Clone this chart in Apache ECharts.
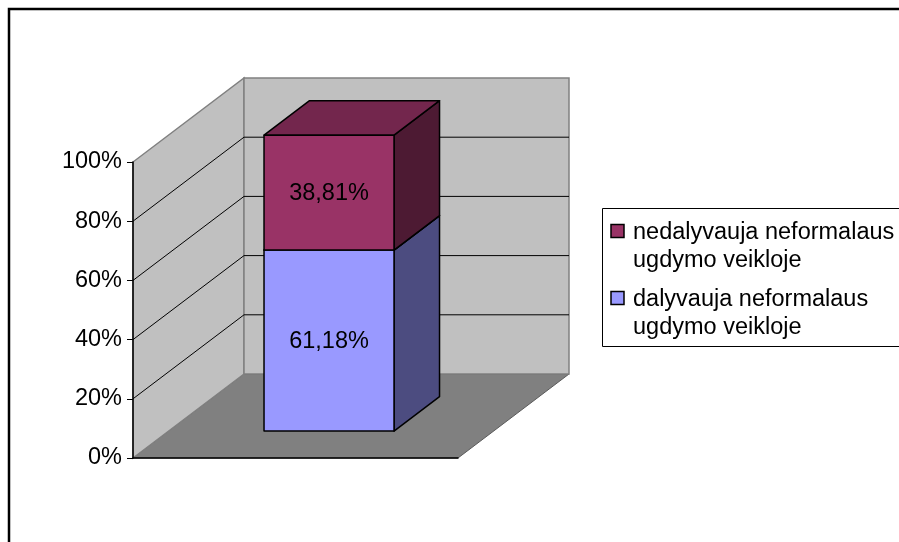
<!DOCTYPE html>
<html>
<head>
<meta charset="utf-8">
<script src="https://cdn.jsdelivr.net/npm/echarts@6/dist/echarts.min.js"></script>
<style>
  html, body { margin: 0; padding: 0; background: #fff; }
  #chart { width: 899px; height: 542px; }
</style>
</head>
<body>
<div id="chart"></div>
<script>
;(function() {
  'use strict'

  //------------------- Data -------------------//
  var categories = ['']
  var seriesNames = ['dalyvauja neformalaus ugdymo veikloje', 'nedalyvauja neformalaus ugdymo veikloje']
  var dalyvauja = [61.18]
  var nedalyvauja = [38.81]
  var yTicks = [0, 20, 40, 60, 80, 100]

  //------------------- Style -------------------//
  var FONT = "'Liberation Sans', Arial, sans-serif"
  var frontColors = ['#9999FF', '#993366']
  var sideColors = ['#4C4C80', '#4D1A33']
  var topColors = ['#7070C0', '#73264D']
  var DX = 111 // depth offset of the 3d box, px
  var DY = -84
  var BAR_FRONT = 0.32 // bar depth range as fraction of box depth
  var BAR_BACK = 0.73
  var GAP_WIDTH = 1.5

  function fmtPct(v) {
    return v.toFixed(2).replace('.', ',') + '%'
  }

  // legend label: first two words, then the rest on a second line
  function wrapName(name) {
    var words = name.split(' ')
    return words.slice(0, 2).join(' ') + '\n' + words.slice(2).join(' ')
  }

  // stacked table built from the arrays
  var valueSets = [dalyvauja, nedalyvauja]
  var stacked = []
  var base = categories.map(() => 0)
  valueSets.forEach((vals, s) => {
    stacked.push(vals.map((v, i) => {
      var row = [i, base[i], base[i] + v, v]
      base[i] += v
      return row
    }))
  })

  function renderWalls(params, api) {
    var cs = params.coordSys
    var L = cs.x
    var R = cs.x + cs.width
    var y0 = api.coord([0, yTicks[0]])[1]
    var yTop = api.coord([0, yTicks[yTicks.length - 1]])[1]
    var children = []

    children.push({
      type: 'polygon',
      shape: { points: [[L, y0], [R, y0], [R + DX, y0 + DY], [L + DX, y0 + DY]] },
      style: { fill: '#808080', stroke: '#5a5a5a', lineWidth: 1 },
    })
    children.push({
      type: 'polygon',
      shape: { points: [[L, y0], [L, yTop], [L + DX, yTop + DY], [L + DX, y0 + DY]] },
      style: { fill: '#C0C0C0', stroke: '#808080', lineWidth: 1.5 },
    })
    children.push({
      type: 'polygon',
      shape: { points: [[L + DX, yTop + DY], [R + DX, yTop + DY], [R + DX, y0 + DY], [L + DX, y0 + DY]] },
      style: { fill: '#C0C0C0', stroke: '#808080', lineWidth: 1.5 },
    })

    yTicks.slice(1, -1).forEach(t => {
      var y = api.coord([0, t])[1]
      children.push({
        type: 'polyline',
        shape: { points: [[L, y], [L + DX, y + DY], [R + DX, y + DY]] },
        style: { stroke: '#000', lineWidth: 1, fill: null },
      })
    })

    return { type: 'group', children }
  }

  function makeBarRenderer(s) {
    return function(params, api) {
      var idx = api.value(0)
      var lo = api.coord([idx, api.value(1)])
      var hi = api.coord([idx, api.value(2)])
      var band = api.size([1, 0])[0]
      var bw = band / (1 + GAP_WIDTH)
      var x0 = lo[0] - bw / 2 + BAR_FRONT * DX - 2
      var x1 = x0 + bw
      var yb = lo[1] + BAR_FRONT * DY
      var yt = hi[1] + BAR_FRONT * DY
      var ddx = (BAR_BACK - BAR_FRONT) * DX
      var ddy = (BAR_BACK - BAR_FRONT) * DY
      var edge = { stroke: '#000', lineWidth: 1.5, lineJoin: 'round' }

      return {
        type: 'group',
        children: [
          {
            type: 'polygon',
            shape: { points: [[x1, yb], [x1, yt], [x1 + ddx, yt + ddy], [x1 + ddx, yb + ddy]] },
            style: Object.assign({ fill: sideColors[s] }, edge),
          },
          {
            type: 'polygon',
            shape: { points: [[x0, yt], [x1, yt], [x1 + ddx, yt + ddy], [x0 + ddx, yt + ddy]] },
            style: Object.assign({ fill: topColors[s] }, edge),
          },
          {
            type: 'rect',
            shape: { x: x0, y: yt, width: bw, height: yb - yt },
            style: Object.assign({ fill: frontColors[s] }, edge),
          },
          {
            type: 'text',
            x: (x0 + x1) / 2,
            y: (yb + yt) / 2 + 1,
            style: {
              text: fmtPct(api.value(3)),
              fill: '#000',
              font: '23.5px ' + FONT,
              align: 'center',
              verticalAlign: 'middle',
            },
          },
        ],
      }
    }
  }

  // legend drawn in reverse order like the original
  var legendItems = seriesNames.map((name, s) => ({ name, s })).reverse()
  var legendGraphics = [
    {
      type: 'rect',
      shape: { x: 602.5, y: 208.5, width: 400, height: 138 },
      style: { fill: '#fff', stroke: '#000', lineWidth: 1 },
      z: 10,
    },
  ]
  legendItems.forEach((it, i) => {
    var cy = 231 + i * 67
    legendGraphics.push({
      type: 'rect',
      shape: { x: 611, y: cy - 6.5, width: 13, height: 13 },
      style: { fill: frontColors[it.s], stroke: '#000', lineWidth: 1.5 },
      z: 11,
    })
    legendGraphics.push({
      type: 'text',
      x: 633,
      y: cy - 12.5,
      style: {
        text: wrapName(it.name),
        lineHeight: 28,
        fill: '#000',
        font: '23.5px ' + FONT,
        verticalAlign: 'top',
      },
      z: 11,
    })
  })

  var chart = echarts.init(document.getElementById('chart'), null, { renderer: 'canvas' })

  chart.setOption({
    animation: false,
    backgroundColor: '#fff',
    textStyle: { fontFamily: FONT },
    grid: { left: 133, right: 441, top: 162, bottom: 84 },
    xAxis: {
      type: 'category',
      data: categories,
      z: 3,
      axisLine: { show: true, lineStyle: { color: '#000', width: 1.5 } },
      axisTick: { show: false },
      axisLabel: { show: false },
      splitLine: { show: false },
    },
    yAxis: {
      type: 'value',
      min: 0,
      max: 100,
      interval: 20,
      z: 3,
      axisLine: { show: true, lineStyle: { color: '#000', width: 1.5 } },
      axisTick: { show: true, length: 6, lineStyle: { color: '#000', width: 1 } },
      axisLabel: { formatter: '{value}%', color: '#000', fontSize: 23.5, fontFamily: FONT, margin: 11 },
      splitLine: { show: false },
    },
    graphic: [
      {
        type: 'rect',
        shape: { x: 9, y: 9, width: 1000, height: 1000 },
        style: { fill: null, stroke: '#000', lineWidth: 2.5 },
        z: 20,
      },
    ].concat(legendGraphics),
    series: [
      {
        type: 'custom',
        name: 'walls',
        z: 1,
        clip: false,
        silent: true,
        renderItem: renderWalls,
        data: [[0]],
      },
    ].concat(
      stacked.map((rows, s) => ({
        type: 'custom',
        name: seriesNames[s],
        z: 2 + s,
        clip: false,
        renderItem: makeBarRenderer(s),
        encode: { x: 0, y: [1, 2] },
        data: rows,
      }))
    ),
  })
})()
</script>
</body>
</html>
